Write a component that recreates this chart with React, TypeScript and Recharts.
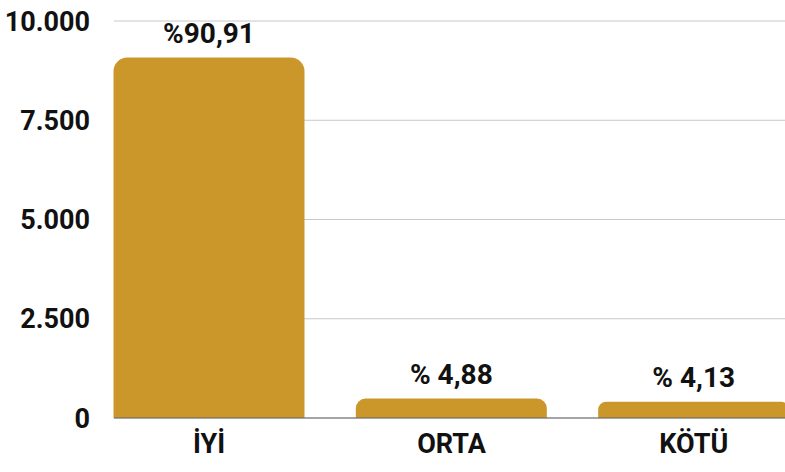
import React from 'react';
import { BarChart, Bar, XAxis, YAxis, CartesianGrid, LabelList } from 'recharts';

const categories = ['İYİ', 'ORTA', 'KÖTÜ'];
const values = [9080, 490, 410];
const percentLabels = ['%90,91', '% 4,88', '% 4,13'];
const yTicks = [0, 2500, 5000, 7500, 10000];

const data = categories.map((name, i) => ({
  name,
  value: values[i],
  label: percentLabels[i],
}));

const formatTick = (v: number) => String(v).replace(/\B(?=(\d{3})+(?!\d))/g, '.');

const font = 'Roboto, "Noto Sans", sans-serif';

const App = () => {
  return (
    <div style={{ position: 'fixed', top: 0, left: 0, width: 785, height: 472, overflow: 'hidden', background: '#fff' }}>
      <BarChart
        width={800}
        height={472}
        data={data}
        margin={{ top: 21, right: 11, left: 0, bottom: 0 }}
        barCategoryGap={25.5}
      >
        <CartesianGrid vertical={false} stroke="#c8c8c8" />
        <XAxis
          dataKey="name"
          height={54}
          padding={{ left: -26, right: -26 }}
          tickLine={false}
          axisLine={{ stroke: '#666' }}
          tickMargin={10}
          tick={{ fill: '#111', fontSize: 27, fontWeight: 700, fontFamily: font }}
        />
        <YAxis
          width={114}
          domain={[0, 10000]}
          ticks={yTicks}
          tickFormatter={formatTick}
          axisLine={false}
          tickLine={false}
          tickMargin={18}
          tick={{ fill: '#111', fontSize: 27, fontWeight: 700, fontFamily: font }}
        />
        <Bar dataKey="value" fill="#CC972A" radius={[14, 14, 0, 0]} isAnimationActive={false}>
          <LabelList
            dataKey="label"
            position="top"
            offset={15}
            fill="#111"
            fontSize={28}
            fontWeight={700}
            fontFamily={font}
          />
        </Bar>
      </BarChart>
    </div>
  );
};

export default App;
